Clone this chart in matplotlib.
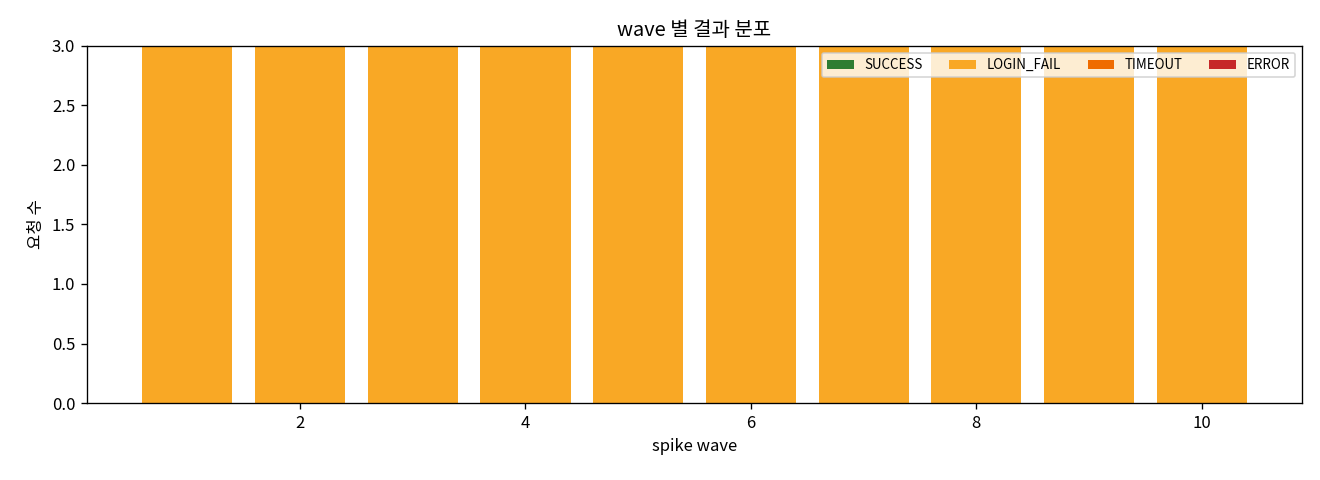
import matplotlib
matplotlib.use("Agg")
import matplotlib.pyplot as plt
import numpy as np

plt.rcParams['font.family'] = ['Noto Sans CJK KR', 'DejaVu Sans']

waves = [1, 2, 3, 4, 5, 6, 7, 8, 9, 10]
success = [0, 0, 0, 0, 0, 0, 0, 0, 0, 0]
login_fail = [3, 3, 3, 3, 3, 3, 3, 3, 3, 3]
timeout = [0, 0, 0, 0, 0, 0, 0, 0, 0, 0]
error = [0, 0, 0, 0, 0, 0, 0, 0, 0, 0]

series = [("SUCCESS", success, "#2e7d32"),
          ("LOGIN_FAIL", login_fail, "#f9a825"),
          ("TIMEOUT", timeout, "#ef6c00"),
          ("ERROR", error, "#c62828")]

fig, ax = plt.subplots(figsize=(11, 4), dpi=120)
bottom = np.zeros(len(waves))
for name, vals, col in series:
    ax.bar(waves, vals, bottom=bottom, color=col, label=name, width=0.8)
    bottom += np.array(vals)

ax.set_ylim(0, 3)
ax.set_title("wave 별 결과 분포")
ax.set_xlabel("spike wave")
ax.set_ylabel("요청 수")
ax.legend(ncol=4, fontsize=8, loc="upper right")
fig.subplots_adjust(left=0.0659, right=0.9864, top=0.9042, bottom=0.1604)
fig.savefig("out.png")
